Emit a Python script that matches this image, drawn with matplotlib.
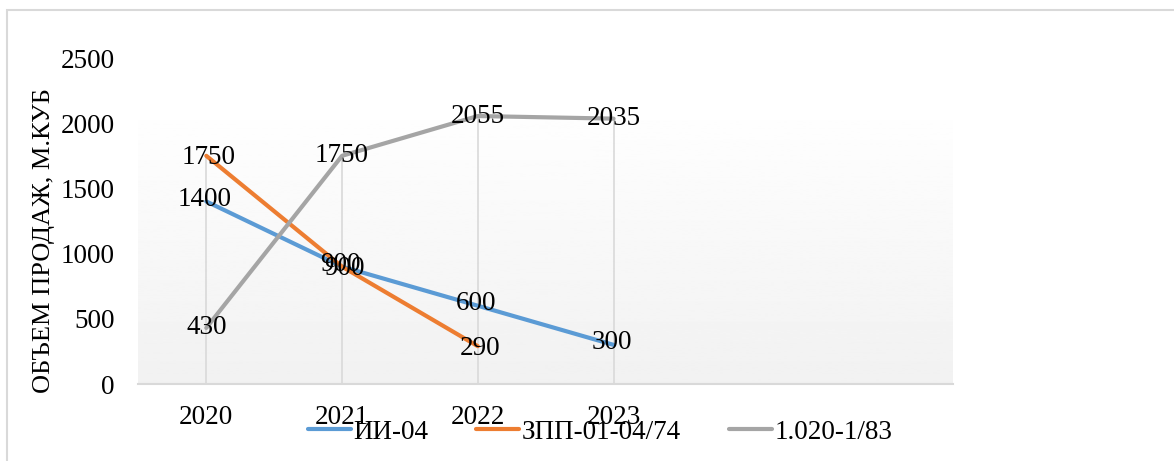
import matplotlib
matplotlib.use("Agg")
import matplotlib.pyplot as plt
from matplotlib.patches import Rectangle
import numpy as np

plt.rcParams['font.family'] = ['Liberation Serif', 'DejaVu Serif']

# данные
years = ['2020', '2021', '2022', '2023', '', '']
series_names = ['ИИ-04', 'ЗПП-01-04/74', '1.020-1/83']
ii_04 = [1400, 900, 600, 300]
zpp = [1750, 900, 290]
s1020 = [430, 1750, 2055, 2035]
y_ticks = [0, 500, 1000, 1500, 2000, 2500]

colors = ['#5B9BD5', '#ED7D31', '#A5A5A5']
# небольшие сдвиги подписей (в пунктах), как в исходнике
label_shift = [(-1.5, 1.5), (1.5, -1.5), (0, 0)]

FS = 19.5
W, H = 1174, 461

fig = plt.figure(figsize=(W / 100, H / 100), dpi=100)
ax = fig.add_axes([138.4 / W, 77 / H, 814.6 / W, 326 / H])

ax.set_xlim(-0.5, len(years) - 0.5)
ax.set_ylim(0, 2500)

# фон области построения - градиент
grad = np.linspace(1.0, 0.945, 256).reshape(-1, 1)
ax.imshow(grad, cmap='gray', vmin=0, vmax=1, aspect='auto',
          extent=(-0.5, len(years) - 0.5, 0, 2178), zorder=0)

all_series = [ii_04, zpp, s1020]

# линии проекции от максимума каждой категории
for i in range(4):
    vals = [s[i] for s in all_series if i < len(s)]
    ax.plot([i, i], [0, max(vals)], color='#D9D9D9', lw=1.2, zorder=1)

for name, vals, c, sh in zip(series_names, all_series, colors, label_shift):
    x = np.arange(len(vals))
    ax.plot(x, vals, color=c, lw=3, solid_capstyle='round', label=name, zorder=3)
    for xi, v in zip(x, vals):
        ax.annotate(str(v), (xi, v), xytext=sh, textcoords='offset points',
                    ha='center', va='center', fontsize=FS, zorder=4)

for side in ['top', 'right', 'left']:
    ax.spines[side].set_visible(False)
ax.spines['bottom'].set_color('#D9D9D9')
ax.spines['bottom'].set_linewidth(1.5)

ax.set_xticks(range(len(years)))
ax.set_xticklabels(years, fontsize=FS)
ax.set_yticks(y_ticks)
ax.set_yticklabels([str(t) for t in y_ticks], fontsize=FS)
ax.tick_params(axis='both', length=0)
ax.tick_params(axis='y', pad=17)
ax.tick_params(axis='x', pad=15)

fig.text(44 / W, 1 - 241 / H, 'ОБЪЕМ ПРОДАЖ, М.КУБ', rotation=90,
         ha='center', va='center', fontsize=19)

fig.legend(loc='center', bbox_to_anchor=(600 / W, 1 - 432 / H), ncol=3,
           frameon=False, fontsize=FS, handlelength=1.6, handletextpad=0.1,
           columnspacing=1.75, borderpad=0)

# рамка диаграммы
fig.patches.append(Rectangle((7 / W, -0.1), 1.2, 1.1 - 10 / H, fill=False,
                             edgecolor='#D9D9D9', lw=1.5,
                             transform=fig.transFigure, figure=fig))

fig.savefig('out.png', dpi=100)
